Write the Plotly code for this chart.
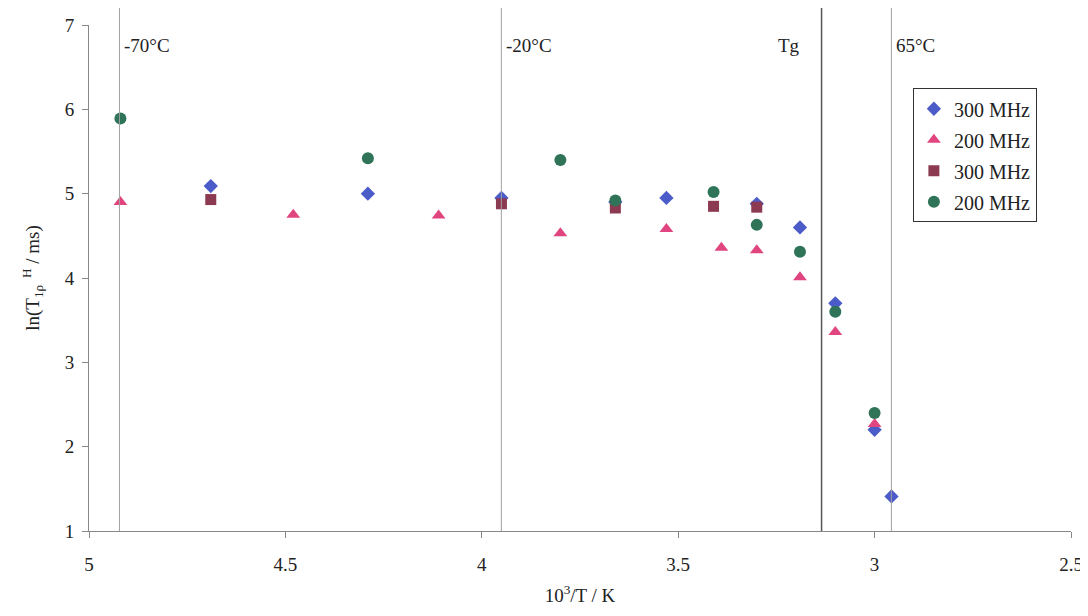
import plotly.graph_objects as go

# ---- data ----
s1_name = "300 MHz"
s1_x = [4.69, 4.29, 3.95, 3.66, 3.53, 3.30, 3.19, 3.10, 3.00, 2.957]
s1_y = [5.09, 5.00, 4.95, 4.90, 4.95, 4.88, 4.60, 3.70, 2.20, 1.41]

s2_name = "200 MHz"
s2_x = [4.92, 4.48, 4.11, 3.80, 3.53, 3.39, 3.30, 3.19, 3.10, 3.00]
s2_y = [4.90, 4.75, 4.74, 4.53, 4.58, 4.36, 4.33, 4.01, 3.36, 2.27]

s3_name = "300 MHz"
s3_x = [4.69, 3.95, 3.66, 3.41, 3.30]
s3_y = [4.93, 4.88, 4.83, 4.85, 4.84]

s4_name = "200 MHz"
s4_x = [4.92, 4.29, 3.80, 3.66, 3.41, 3.30, 3.19, 3.10, 3.00]
s4_y = [5.89, 5.42, 5.40, 4.92, 5.02, 4.63, 4.31, 3.60, 2.40]

line_temps_c = [-70, -20, 65]
line_labels = ["-70°C", "-20°C", "65°C"]
tg_x = 3.135
tg_label = "Tg"

x_ticks = [5, 4.5, 4, 3.5, 3, 2.5]
y_ticks = [1, 2, 3, 4, 5, 6, 7]

FONT = "Liberation Serif"
FS = 19

fig = go.Figure()
fig.add_trace(go.Scatter(x=s1_x, y=s1_y, mode="markers", name=s1_name, legendgroup="a",
                         marker=dict(symbol="diamond", size=11, color="#4B5BC8")))
fig.add_trace(go.Scatter(x=s2_x, y=s2_y, mode="markers", name=s2_name, legendgroup="b",
                         marker=dict(symbol="triangle-up", size=12, color="#E0457F")))
fig.add_trace(go.Scatter(x=s3_x, y=s3_y, mode="markers", name=s3_name, legendgroup="c",
                         marker=dict(symbol="square", size=11, color="#8C3A52")))
fig.add_trace(go.Scatter(x=s4_x, y=s4_y, mode="markers", name=s4_name, legendgroup="d",
                         marker=dict(symbol="circle", size=12, color="#2F7358")))

# vertical reference lines
for t, lab in zip(line_temps_c, line_labels):
    xv = 1000.0 / (t + 273.15)
    fig.add_shape(type="line", xref="x", yref="paper", x0=xv, x1=xv, y0=0, y1=1.04,
                  line=dict(color="#A0A0A0", width=1))
    fig.add_annotation(x=xv, y=6.76, xref="x", yref="y", text=lab, showarrow=False,
                       xanchor="left", xshift=3, font=dict(family=FONT, size=FS, color="#222"))
fig.add_shape(type="line", xref="x", yref="paper", x0=tg_x, x1=tg_x, y0=0, y1=1.04,
              line=dict(color="#555555", width=1.5))
fig.add_annotation(x=tg_x, y=6.76, xref="x", yref="y", text=tg_label, showarrow=False,
                   xanchor="right", xshift=-20, font=dict(family=FONT, size=FS, color="#222"))

fig.update_layout(
    width=1080, height=600,
    margin=dict(l=81, r=17, t=17, b=77),
    paper_bgcolor="white", plot_bgcolor="white",
    font=dict(family=FONT, size=FS, color="#222"),
    showlegend=True,
    legend=dict(x=0.839, y=0.875, xanchor="left", yanchor="top",
                bordercolor="#333", borderwidth=1, bgcolor="white",
                font=dict(family=FONT, size=20, color="#222"),
                traceorder="grouped", tracegroupgap=2, itemwidth=30),
)
fig.update_xaxes(range=[5, 2.5], tickvals=x_ticks, ticktext=[str(v) for v in x_ticks],
                 showgrid=False, zeroline=False, showline=True, linecolor="#888",
                 ticks="outside", ticklen=6, tickcolor="#888", automargin=False,
                 ticklabelstandoff=10, ticklabeloverflow="allow",
                 title=dict(text="10<sup>3</sup>/T / K", standoff=14,
                            font=dict(family=FONT, size=FS)),
                 tickfont=dict(family=FONT, size=FS))
fig.update_yaxes(range=[1, 7], tickvals=y_ticks,
                 showgrid=False, zeroline=False, showline=True, linecolor="#888",
                 ticks="outside", ticklen=6, tickcolor="#888", automargin=False,
                 ticklabelstandoff=4,
                 title=dict(text="ln(T<sub>1ρ</sub><sup>  H</sup> / ms)", standoff=20,
                            font=dict(family=FONT, size=FS)),
                 tickfont=dict(family=FONT, size=FS))

fig.write_html("out.html")
